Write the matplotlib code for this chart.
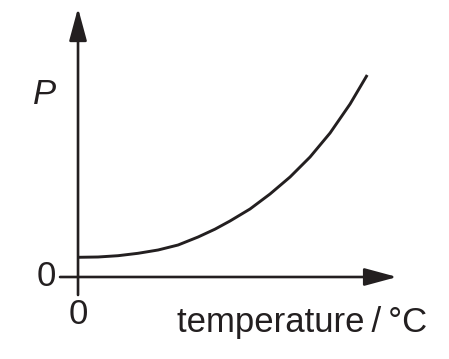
import matplotlib
matplotlib.use("Agg")
import matplotlib.pyplot as plt

# curve (temperature 0..100, P in arbitrary units)
temperature = [0, 6.9, 13.8, 20.7, 27.6, 34.5, 41.4, 47.2, 52.4, 59.3, 66.2, 73.1,
               80.0, 86.9, 93.8, 99.7]
pressure = [19.7, 20, 21.3, 23.7, 27, 32, 40, 47.8, 56, 68, 83, 100,
            120, 144, 173, 202]

ink = "#231f20"
plt.rcParams["font.family"] = ["Liberation Sans", "DejaVu Sans"]

fig = plt.figure(figsize=(4.49, 3.59), dpi=100)
ax = fig.add_axes([0, 0, 1, 1])
ax.set_xlim(-26.9, 127.9)
ax.set_ylim(-82, 277)
ax.axis("off")

arrow = dict(arrowstyle="-|>,head_length=2.0,head_width=0.54", mutation_scale=10,
             lw=1.9, color=ink, shrinkA=0, shrinkB=0)
ax.annotate("", xy=(0, 269), xytext=(0, -18), arrowprops=arrow)
ax.annotate("", xy=(110, 0), xytext=(-6.2, 0), arrowprops=arrow)

ax.plot(temperature, pressure, color=ink, lw=2.1, solid_capstyle="butt",
        solid_joinstyle="round")

ax.text(-11, 0, "0", fontsize=25, color=ink, ha="center", va="center")
ax.text(0, -37, "0", fontsize=25, color=ink, ha="center", va="center")
ax.text(-11.7, 182, "P", fontsize=25, color=ink, ha="center", va="center", style="italic")
ax.text(77.2, -55, "temperature\u2009/\u2009°C", fontsize=25, color=ink,
        ha="center", va="baseline")

fig.savefig("out.png", dpi=100)
